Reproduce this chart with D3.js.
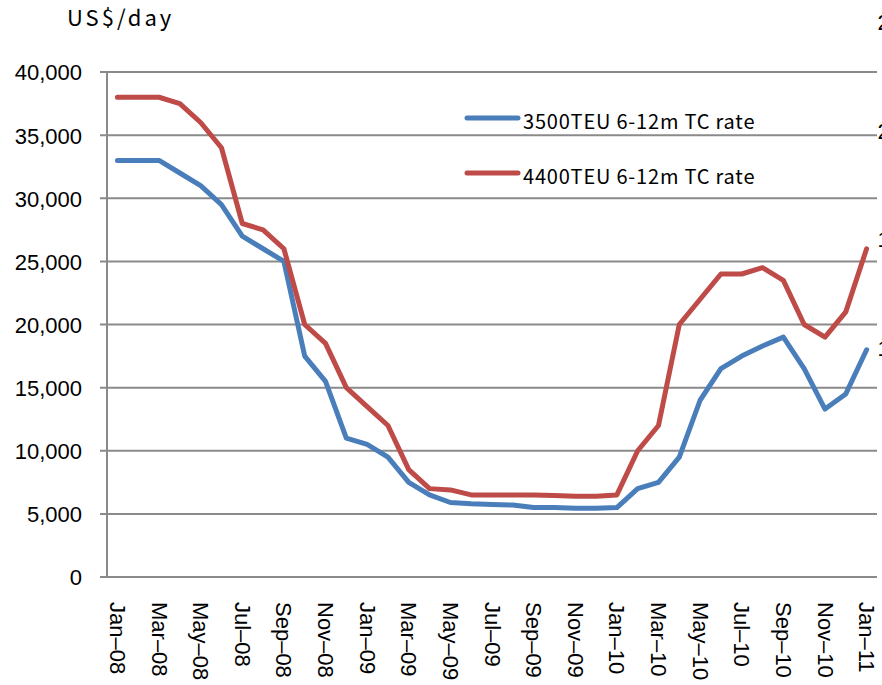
<!DOCTYPE html>
<html>
<head>
<meta charset="utf-8">
<script src="https://cdn.jsdelivr.net/npm/d3@7"></script>
<style>
  html, body { margin: 0; padding: 0; background: #fff; overflow: hidden; }
  svg { display: block; }
</style>
</head>
<body>
<svg id="chart" width="882" height="685"></svg>
<script>
// Monthly time-charter rates, Jan-08 to Jan-11
const months = [
  "Jan–08","Feb–08","Mar–08","Apr–08","May–08","Jun–08","Jul–08","Aug–08","Sep–08","Oct–08","Nov–08","Dec–08",
  "Jan–09","Feb–09","Mar–09","Apr–09","May–09","Jun–09","Jul–09","Aug–09","Sep–09","Oct–09","Nov–09","Dec–09",
  "Jan–10","Feb–10","Mar–10","Apr–10","May–10","Jun–10","Jul–10","Aug–10","Sep–10","Oct–10","Nov–10","Dec–10",
  "Jan–11"
];
const tickMonths = [
  "Jan–08","Mar–08","May–08","Jul–08","Sep–08","Nov–08",
  "Jan–09","Mar–09","May–09","Jul–09","Sep–09","Nov–09",
  "Jan–10","Mar–10","May–10","Jul–10","Sep–10","Nov–10","Jan–11"
];
const rate3500 = [
  33000,33000,33000,32000,31000,29500,27000,26000,25000,17500,15500,11000,
  10500,9500,7500,6500,5900,5800,5750,5700,5500,5500,5450,5450,
  5500,7000,7500,9500,14000,16500,17500,18300,19000,16500,13300,14500,
  18000
];
const rate4400 = [
  38000,38000,38000,37500,36000,34000,28000,27500,26000,20000,18500,15000,
  13500,12000,8500,7000,6900,6500,6500,6500,6500,6450,6400,6400,
  6500,10000,12000,20000,22000,24000,24000,24500,23500,20000,19000,21000,
  26000
];
const seriesNames = ["3500TEU 6-12m TC rate", "4400TEU 6-12m TC rate"];
const seriesColors = ["#4a7ebb", "#be4b48"];
const leftTicks = [0, 5000, 10000, 15000, 20000, 25000, 30000, 35000, 40000];
const rightTicks = [10, 15, 20, 25];
const unitLabel = "US$/day";

const svg = d3.select("#chart");
const latin = "'Liberation Sans', Arial, sans-serif";
const gothic = "'Noto Sans CJK JP', 'Noto Sans', sans-serif";

const plot = { left: 107, right: 877, top: 72, bottom: 577 };

const x = d3.scalePoint().domain(months).range([plot.left, plot.right]).padding(0.5);
const y = d3.scaleLinear().domain([0, 40000]).range([plot.bottom, plot.top]);
const y2 = d3.scaleLinear().domain([0, 25]).range([564, 22]);

// horizontal gridlines (extend past the axis as outside ticks)
svg.append("g")
  .selectAll("line")
  .data(leftTicks)
  .join("line")
  .attr("x1", plot.left - 7)
  .attr("x2", plot.right)
  .attr("y1", d => y(d))
  .attr("y2", d => y(d))
  .attr("stroke", "#8a8a8a")
  .attr("stroke-width", 2);

// vertical axis line
svg.append("line")
  .attr("x1", plot.left).attr("x2", plot.left)
  .attr("y1", plot.top).attr("y2", plot.bottom)
  .attr("stroke", "#8a8a8a").attr("stroke-width", 2);

// left axis labels
const yAxis = d3.axisLeft(y).tickValues(leftTicks).tickFormat(d3.format(",")).tickSize(0).tickPadding(0);
const gy = svg.append("g").attr("transform", `translate(${plot.left - 25},0)`).call(yAxis);
gy.select(".domain").remove();
gy.selectAll("text")
  .attr("font-family", latin)
  .attr("font-size", 22)
  .attr("fill", "#000")
  .attr("dy", "0.36em");

// secondary axis labels, running off the right edge of the page
const y2Axis = d3.axisRight(y2).tickValues(rightTicks).tickFormat(d3.format("d")).tickSize(0).tickPadding(0);
const gy2 = svg.append("g").attr("transform", `translate(902,0)`).call(y2Axis);
gy2.select(".domain").remove();
gy2.selectAll("text")
  .attr("font-family", latin)
  .attr("font-size", 22)
  .attr("fill", "#000")
  .attr("text-anchor", "end")
  .attr("dy", "0.36em");

// bottom axis with rotated month labels
const xAxis = d3.axisBottom(x).tickValues(tickMonths).tickSize(0).tickPadding(0);
const gx = svg.append("g").attr("transform", `translate(0,${plot.bottom})`).call(xAxis);
gx.select(".domain")
  .attr("d", `M${plot.left - 7},0H${plot.right}`)
  .attr("stroke", "#8a8a8a").attr("stroke-width", 2);
gx.selectAll("text")
  .attr("font-family", latin)
  .attr("font-size", 22)
  .attr("fill", "#000")
  .attr("text-anchor", "start")
  .attr("transform", "translate(0,25) rotate(90)")
  .attr("x", 0)
  .attr("y", 0)
  .attr("dy", "0.36em");

// series lines
const line = d3.line()
  .x((d, i) => x(months[i]))
  .y(d => y(d));

[rate3500, rate4400].forEach((vals, k) => {
  svg.append("path")
    .datum(vals)
    .attr("d", line)
    .attr("fill", "none")
    .attr("stroke", seriesColors[k])
    .attr("stroke-width", 5)
    .attr("stroke-linejoin", "round")
    .attr("stroke-linecap", "round");
});

// legend
const legend = svg.append("g").attr("transform", "translate(467,118)");
seriesNames.forEach((name, k) => {
  const g = legend.append("g").attr("transform", `translate(0,${k * 55})`);
  g.append("line")
    .attr("x1", 0).attr("x2", 51).attr("y1", 0).attr("y2", 0)
    .attr("stroke", seriesColors[k]).attr("stroke-width", 5)
    .attr("stroke-linecap", "round");
  g.append("text")
    .attr("x", 56).attr("y", 11)
    .attr("font-family", gothic)
    .attr("font-size", 20)
    .attr("letter-spacing", 0.8)
    .attr("fill", "#000")
    .text(name);
});

// unit label
svg.append("text")
  .attr("x", 67).attr("y", 26)
  .attr("font-family", gothic)
  .attr("font-size", 22)
  .attr("letter-spacing", 3)
  .attr("fill", "#000")
  .text(unitLabel);
</script>
</body>
</html>
